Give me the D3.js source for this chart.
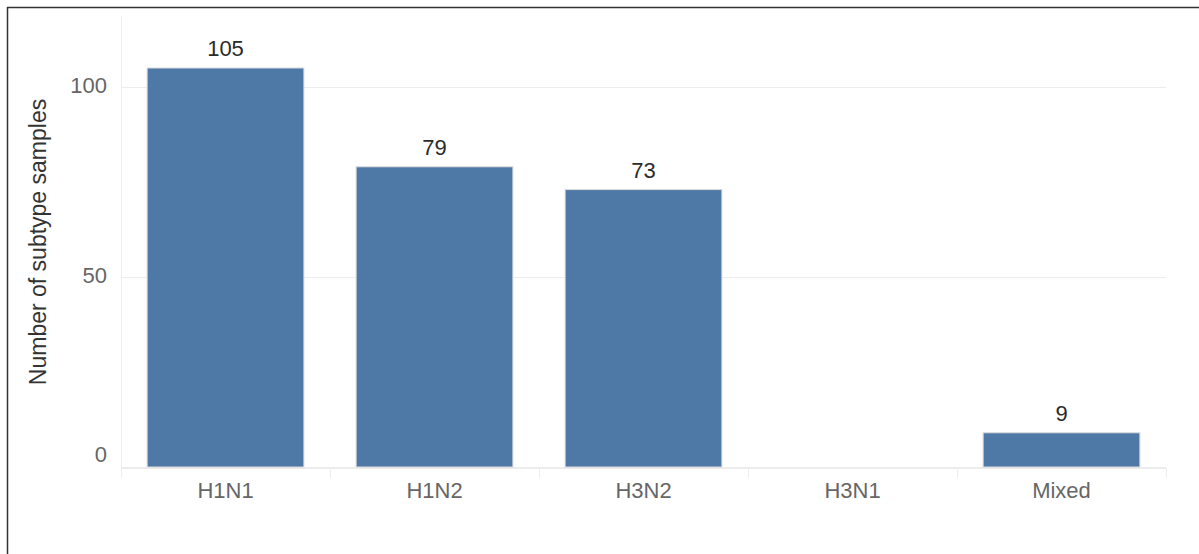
<!DOCTYPE html>
<html><head><meta charset="utf-8">
<script src="https://cdn.jsdelivr.net/npm/d3@7"></script>
<style>body{margin:0;background:#fff;}svg{display:block;font-family:Arial,"Liberation Sans",sans-serif;}</style>
</head><body>
<svg id="c" width="1199" height="554"></svg>
<script>
const categories = ["H1N1","H1N2","H3N2","H3N1","Mixed"];
const values = [105, 79, 73, 0, 9];
const yTicks = [0, 50, 100];
const yTitle = "Number of subtype samples";

const svg = d3.select("#c");
const W = 1199, H = 554;
const m = {left:121, right:1166, top:16, bottom:467};

// frame (top + left)
svg.append("line").attr("x1",7).attr("x2",W).attr("y1",7.5).attr("y2",7.5).attr("stroke","#333").attr("stroke-width",1.5);
svg.append("line").attr("x1",7.5).attr("x2",7.5).attr("y1",7).attr("y2",H).attr("stroke","#333").attr("stroke-width",1.5);

const x = d3.scaleBand().domain(categories).range([m.left, m.right]).paddingInner(0.25).paddingOuter(0.125);
const y = d3.scaleLinear().domain([0, 100]).range([m.bottom, 87]);

// gridlines
svg.append("g").selectAll("line").data(yTicks.filter(d=>d>0)).join("line")
  .attr("x1",m.left).attr("x2",m.right)
  .attr("y1",d=>Math.round(y(d))+0.5).attr("y2",d=>Math.round(y(d))+0.5)
  .attr("stroke","#ececec").attr("stroke-width",1);

// y-axis vertical line
svg.append("line").attr("x1",m.left+0.5).attr("x2",m.left+0.5).attr("y1",m.top).attr("y2",478)
  .attr("stroke","#eeeeee").attr("stroke-width",1);

// x baseline
svg.append("line").attr("x1",m.left).attr("x2",m.right).attr("y1",m.bottom+1).attr("y2",m.bottom+1)
  .attr("stroke","#e6e6e6").attr("stroke-width",1.5);

// x tick marks at band boundaries
const step = x.step();
const bounds = d3.range(categories.length+1).map(i => m.left + i*step);
svg.append("g").selectAll("line").data(bounds).join("line")
  .attr("x1",d=>Math.round(d)+0.5).attr("x2",d=>Math.round(d)+0.5)
  .attr("y1",m.bottom+1).attr("y2",478)
  .attr("stroke","#eeeeee").attr("stroke-width",1);

// y tick labels
svg.append("g").selectAll("text").data(yTicks).join("text")
  .attr("x",107).attr("y",d => d===0 ? y(d)-13 : y(d)-2)
  .attr("dy","0.35em").attr("text-anchor","end")
  .attr("font-size",22).attr("fill","#666").text(d=>d);

// bars
svg.append("g").selectAll("rect").data(categories.map((c,i)=>({c,v:values[i]})).filter(d=>d.v>0)).join("rect")
  .attr("x",d=>x(d.c)).attr("width",x.bandwidth())
  .attr("y",d=>y(d.v)).attr("height",d=>y(0)-y(d.v))
  .attr("fill","#4e78a5").attr("stroke","#d9d9d9").attr("stroke-width",1);

// bar labels
svg.append("g").selectAll("text").data(categories.map((c,i)=>({c,v:values[i]})).filter(d=>d.v>0)).join("text")
  .attr("x",d=>x(d.c)+x.bandwidth()/2).attr("y",d=>y(d.v)-12)
  .attr("text-anchor","middle").attr("font-size",22).attr("fill","#2a2a2a").text(d=>d.v);

// x labels
svg.append("g").selectAll("text").data(categories).join("text")
  .attr("x",d=>x(d)+x.bandwidth()/2).attr("y",498)
  .attr("text-anchor","middle").attr("font-size",22).attr("fill","#666").text(d=>d);

// y title
svg.append("text").attr("transform","translate(46,242) rotate(-90)")
  .attr("text-anchor","middle").attr("font-size",23).attr("fill","#333").text(yTitle);
</script>
</body></html>
